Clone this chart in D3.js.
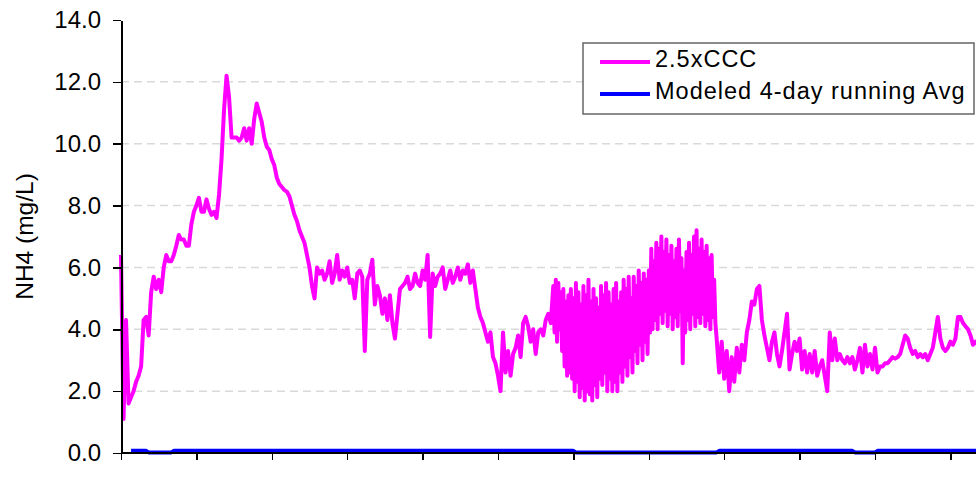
<!DOCTYPE html>
<html lang="en">
<head>
    <meta charset="UTF-8">
    <title>NH4 vs 2.5xCCC</title>
    <script src="https://cdn.jsdelivr.net/npm/d3@7"></script>
    <style>
        body { margin: 0; background: #fff; }
        svg { display: block; font-family: "Liberation Sans", Arial, sans-serif; }
        .grid line { stroke: #d9d9d9; stroke-width: 1.5px; stroke-dasharray: 8,5; }
        .axis path, .axis line { stroke: #000; shape-rendering: crispEdges; }
        .axis text { font-size: 24px; fill: #000; }
    </style>
</head>
<body>
<svg width="976" height="480"></svg>
<script>

    // 2.5xCCC, one value per day, days 0..171
    var cccStart = [
        6.4, 1.1, 4.3, 1.6, 1.8, 2.0, 2.3, 2.5, 2.8, 4.3,
        4.4, 3.8, 5.2, 5.7, 5.3, 5.6, 5.2, 6.0, 6.4, 6.2,
        6.2, 6.4, 6.7, 7.05, 6.9, 6.9, 6.7, 6.7, 7.4, 7.8,
        8.0, 8.25, 7.8, 7.8, 8.2, 7.9, 7.7, 7.8, 7.6, 8.35,
        9.5, 11.1, 12.2, 11.5, 10.2, 10.2, 10.2, 10.1, 10.2, 10.5,
        10.1, 10.5, 10.0, 10.8, 11.3, 11.0, 10.7, 10.2, 9.9, 9.8,
        9.5, 9.3, 8.9, 8.7, 8.6, 8.5, 8.45, 8.3, 8.0, 7.7,
        7.5, 7.2, 7.0, 6.8, 6.4, 6.0, 5.4, 5.0, 6.0, 5.8,
        5.9, 5.6, 5.8, 6.2, 5.5, 5.8, 6.4, 5.6, 5.9, 5.7,
        6.0, 5.5, 5.6, 5.0, 5.8, 5.9, 5.7, 3.3, 5.6, 5.8,
        6.25, 4.8, 5.4, 5.1, 4.5, 5.0, 4.3, 5.1, 4.2, 3.7,
        4.5, 5.3, 5.4, 5.5, 5.7, 5.3, 5.4, 5.8, 5.5, 5.4,
        5.9, 5.6, 6.4, 3.75, 5.8, 5.4, 5.7, 5.8, 6.0, 5.3,
        5.6, 5.9, 5.5, 5.7, 6.0, 5.6, 5.9, 5.8, 6.1, 5.5,
        5.9, 5.3, 4.7, 4.4, 4.2, 3.9, 3.6, 3.9, 3.1, 2.9,
        2.5, 2.0, 3.9, 2.6, 3.3, 2.5, 3.2, 3.4, 3.8, 3.1,
        4.2, 4.4, 4.1, 3.6, 4.0, 3.2, 3.9, 4.0, 3.8, 4.3,
        4.5, 4.2
    ];

    // days 172..236.5, every half day (strong daily swing)
    var cccDense = [
        5.4, 3.9, 5.6, 3.6, 5.5, 4.0, 5.2, 3.3, 5.3, 2.8,
        4.9, 2.5, 5.1, 2.6, 5.3, 2.4, 5.0, 2.0, 5.5, 2.3,
        5.2, 1.8, 4.8, 2.1, 5.4, 1.7, 5.1, 2.0, 5.6, 1.9,
        4.9, 1.7, 5.3, 2.2, 5.0, 1.8, 4.7, 2.4, 5.4, 2.2,
        5.1, 2.6, 5.5, 2.0, 5.2, 2.4, 4.8, 2.0, 5.3, 2.3,
        5.5, 2.0, 4.9, 2.6, 5.2, 2.3, 5.6, 2.8, 5.3, 2.5,
        5.7, 3.1, 5.0, 2.6, 5.7, 3.3, 5.4, 2.9, 5.9, 3.5,
        5.5, 3.0, 5.8, 3.6, 5.6, 3.2, 5.9, 3.9, 6.6, 4.0,
        6.2, 4.3, 6.8, 4.0, 6.6, 4.5, 7.0, 4.2, 6.5, 4.6,
        6.9, 4.1, 6.4, 4.5, 6.7, 4.0, 6.2, 4.4, 6.6, 4.1,
        6.9, 4.6, 6.3, 2.9, 5.9, 3.9, 6.5, 4.3, 6.8, 4.0,
        6.4, 4.5, 7.0, 4.1, 7.2, 4.4, 6.6, 4.2, 6.9, 4.5,
        6.5, 4.1, 6.7, 4.3, 6.3, 4.0, 6.4, 4.4, 5.6, 4.2
    ];

    // days 237..341, one value per day
    var cccEnd = [
        3.7, 2.6, 3.6,
        2.4, 3.3, 2.0, 3.1, 2.3, 3.4, 2.6, 3.5, 3.0, 3.9,
        4.3, 4.9, 4.8, 5.3, 5.4, 4.3, 3.8, 3.4, 3.0, 3.6,
        3.9, 3.2, 2.8, 3.3, 3.9, 4.5, 2.7, 3.2, 3.6, 3.3,
        3.7, 2.7, 3.3, 2.6, 3.2, 2.6, 3.3, 2.5, 2.8, 3.0,
        2.5, 2.0, 3.9, 3.0, 3.7, 3.0, 3.2, 3.0, 2.9, 3.1,
        2.9, 3.1, 2.7, 3.0, 3.4, 2.6, 3.5, 2.8, 3.2, 2.7,
        3.4, 2.6, 2.8, 2.8, 2.9, 2.9, 3.0, 3.1, 3.05, 3.1,
        3.2, 3.5, 3.8, 3.7, 3.4, 3.2, 3.3, 3.1, 3.2, 3.1,
        3.2, 3.0, 3.2, 3.4, 3.9, 4.4, 3.7, 3.4, 3.3, 3.4,
        3.6, 3.5, 3.7, 4.4, 4.4, 4.2, 4.1, 4.0, 3.8, 3.5,
        3.6, 3.5
    ];

    // modeled 4-day running average, step changes
    var avgDays = [4, 10, 11, 20, 21, 180, 181, 237, 238, 291, 292, 300, 301, 341];
    var avgValues = [0.07, 0.07, 0.02, 0.02, 0.07, 0.07, 0.02, 0.02, 0.07, 0.07, 0.02, 0.02, 0.07, 0.07];

    var yTicks = [0, 2, 4, 6, 8, 10, 12, 14];
    var gridTicks = [2, 4, 6, 8, 10, 12];
    var xTicks = d3.range(0, 361, 30);

    var seriesNames = ["2.5xCCC", "Modeled 4-day running Avg"];
    var seriesColors = ["#ff00ff", "#0000ff"];

    var svg = d3.select("svg"),
        margin = {top: 20, left: 121},
        width = 976,
        bottom = 453;

    var x = d3.scaleLinear().domain([0, 30]).range([margin.left, margin.left + 75.4]);
    var y = d3.scaleLinear().domain([0, 14]).range([bottom, margin.top]);

    // gridlines
    svg.append("g")
        .attr("class", "grid")
        .selectAll("line")
        .data(gridTicks)
        .enter().append("line")
        .attr("x1", margin.left)
        .attr("x2", width)
        .attr("y1", function(d) { return y(d); })
        .attr("y2", function(d) { return y(d); });

    var cccData = cccStart.map(function(v, i) { return [i, v]; })
        .concat(cccDense.map(function(v, i) { return [172 + i / 2, v]; }))
        .concat(cccEnd.map(function(v, i) { return [237 + i, v]; }));
    var avgData = avgDays.map(function(d, i) { return [d, avgValues[i]]; });

    var line = d3.line()
        .x(function(d) { return x(d[0]); })
        .y(function(d) { return y(d[1]); });

    svg.append("path")
        .datum(cccData)
        .attr("fill", "none")
        .attr("stroke", seriesColors[0])
        .attr("stroke-width", 4)
        .attr("stroke-linejoin", "round")
        .attr("d", line);

    svg.append("path")
        .datum(avgData)
        .attr("fill", "none")
        .attr("stroke", seriesColors[1])
        .attr("stroke-width", 4)
        .attr("stroke-linejoin", "round")
        .attr("d", line);

    // x axis
    var xAxis = svg.append("g")
        .attr("class", "axis")
        .attr("transform", "translate(0," + bottom + ")")
        .call(d3.axisBottom(x).tickValues(xTicks).tickSize(7).tickSizeOuter(0).tickFormat(""));
    xAxis.select(".domain").attr("d", "M" + margin.left + ",0H" + width).attr("stroke-width", 2);
    xAxis.selectAll(".tick line").attr("stroke", "#444").attr("stroke-width", 1.5);

    // y axis
    var yAxis = svg.append("g")
        .attr("class", "axis")
        .attr("transform", "translate(" + margin.left + ",0)")
        .call(d3.axisLeft(y).tickValues(yTicks).tickSize(8).tickSizeOuter(0).tickPadding(12)
            .tickFormat(d3.format(".1f")));
    yAxis.select(".domain").attr("stroke-width", 2);
    yAxis.selectAll(".tick line").attr("stroke", "#444").attr("stroke-width", 1.5);

    svg.append("text")
        .attr("transform", "translate(33," + ((bottom + margin.top) / 2) + ") rotate(-90)")
        .attr("text-anchor", "middle")
        .attr("font-size", 24.5)
        .text("NH4 (mg/L)");

    // legend
    var legend = svg.append("g").attr("transform", "translate(583,43)");
    legend.append("rect")
        .attr("width", 391)
        .attr("height", 71)
        .attr("fill", "#fff")
        .attr("stroke", "#666")
        .attr("stroke-width", 1.5);

    var item = legend.selectAll(".item")
        .data(seriesNames)
        .enter().append("g")
        .attr("transform", function(d, i) { return "translate(0," + (19 + i * 32) + ")"; });

    item.append("line")
        .attr("x1", 17).attr("x2", 67)
        .attr("stroke", function(d, i) { return seriesColors[i]; })
        .attr("stroke-width", 4);

    item.append("text")
        .attr("x", 72)
        .attr("y", 5)
        .attr("font-size", 23.5)
        .attr("letter-spacing", 1)
        .text(function(d) { return d; });

</script>
</body>
</html>
